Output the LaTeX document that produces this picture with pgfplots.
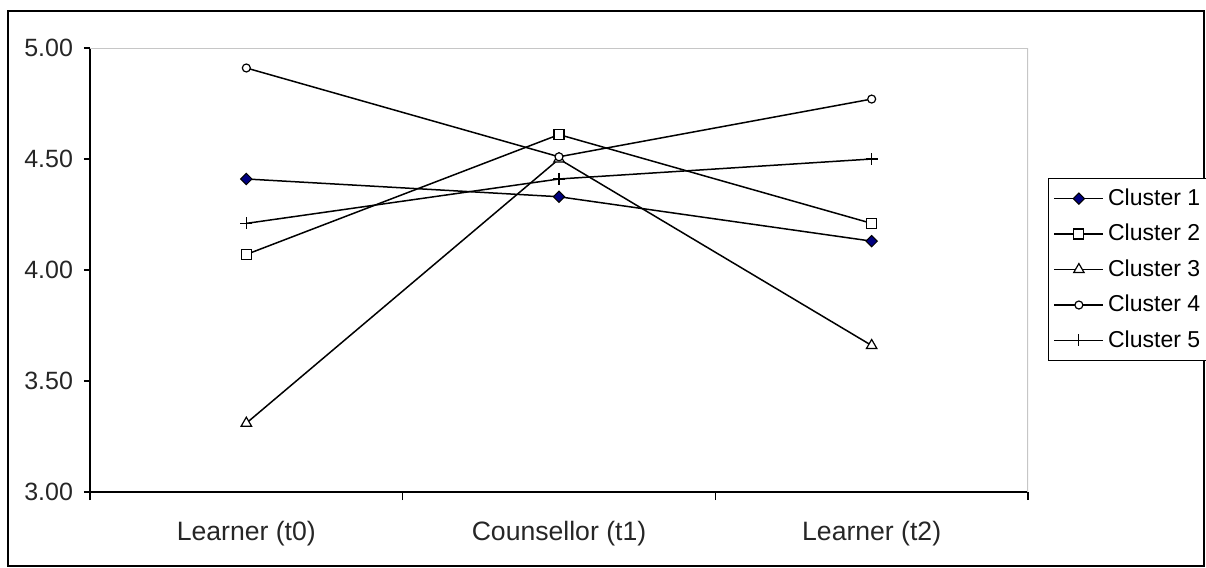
\documentclass[border=0pt]{standalone}
\usepackage{fontspec}
\setmainfont{Liberation Sans}
\usepackage{pgfplots}
\pgfplotsset{compat=1.18}
\definecolor{navy}{RGB}{0,0,128}
\begin{document}
\begin{tikzpicture}
\useasboundingbox (-45pt,-38pt) rectangle (558pt,246pt);
\draw[line width=0.8pt] (-41pt,-37pt) rectangle (557pt,240.5pt);
\begin{axis}[
  at={(0pt,0pt)}, anchor=south west,
  scale only axis, width=469pt, height=222pt,
  xmin=-0.5, xmax=2.5, ymin=3, ymax=5,
  xtick={0,1,2},
  xticklabels={Learner (t0),Counsellor (t1),Learner (t2)},
  major x tick style={draw=none},
  minor xtick={-0.5,0.5,1.5,2.5},
  ytick={3,3.5,4,4.5,5},
  tick align=outside,
  major tick length=3pt, minor tick length=4pt,
  axis x line*=bottom, axis y line*=left,
  axis line style={-, line width=0.8pt, black},
  every tick/.style={black, line width=0.8pt},
  y tick label style={/pgf/number format/fixed, /pgf/number format/fixed zerofill, /pgf/number format/precision=2, xshift=-2pt},
  /pgf/number format/assume math mode=true,
  tick label style={font=\fontsize{12.5}{15}\selectfont, text=black!85},
  xticklabel style={yshift=-8pt, font=\fontsize{13.3}{16}\selectfont},
  legend style={at={(1.0213,0.707)}, anchor=north west, draw=black, line width=0.7pt,
    font=\fontsize{11.5}{13}\selectfont, row sep=3.9pt, inner xsep=2.5pt, inner ysep=3pt},
  legend cell align=left,
  legend image code/.code={\draw[line width=0.75pt, mark repeat=2,mark phase=2] plot coordinates {(0cm,0cm)(0.43cm,0cm)(0.86cm,0cm)};},
  every axis plot/.append style={line width=0.75pt, black},
]
\addplot[mark=square*, mark size=2pt, mark options={rotate=45, fill=navy, draw=black, line width=0.5pt}] coordinates {(0,4.41) (1,4.33) (2,4.13)};
\addlegendentry{Cluster 1}
\addplot[mark=square*, mark size=2.5pt, mark options={fill=white, line width=0.6pt}] coordinates {(0,4.07) (1,4.61) (2,4.21)};
\addlegendentry{Cluster 2}
\addplot[mark=triangle*, mark size=3pt, mark options={fill=white, line width=0.6pt}] coordinates {(0,3.31) (1,4.50) (2,3.66)};
\addlegendentry{Cluster 3}
\addplot[mark=*, mark size=2pt, mark options={fill=white, line width=0.6pt}] coordinates {(0,4.91) (1,4.51) (2,4.77)};
\addlegendentry{Cluster 4}
\addplot[mark=+, mark size=3pt, mark options={line width=0.6pt}] coordinates {(0,4.21) (1,4.41) (2,4.50)};
\addlegendentry{Cluster 5}
\draw[gray!45, line width=0.8pt] (rel axis cs:0,1) -- (rel axis cs:1,1) -- (rel axis cs:1,0);
\end{axis}
\end{tikzpicture}
\end{document}
